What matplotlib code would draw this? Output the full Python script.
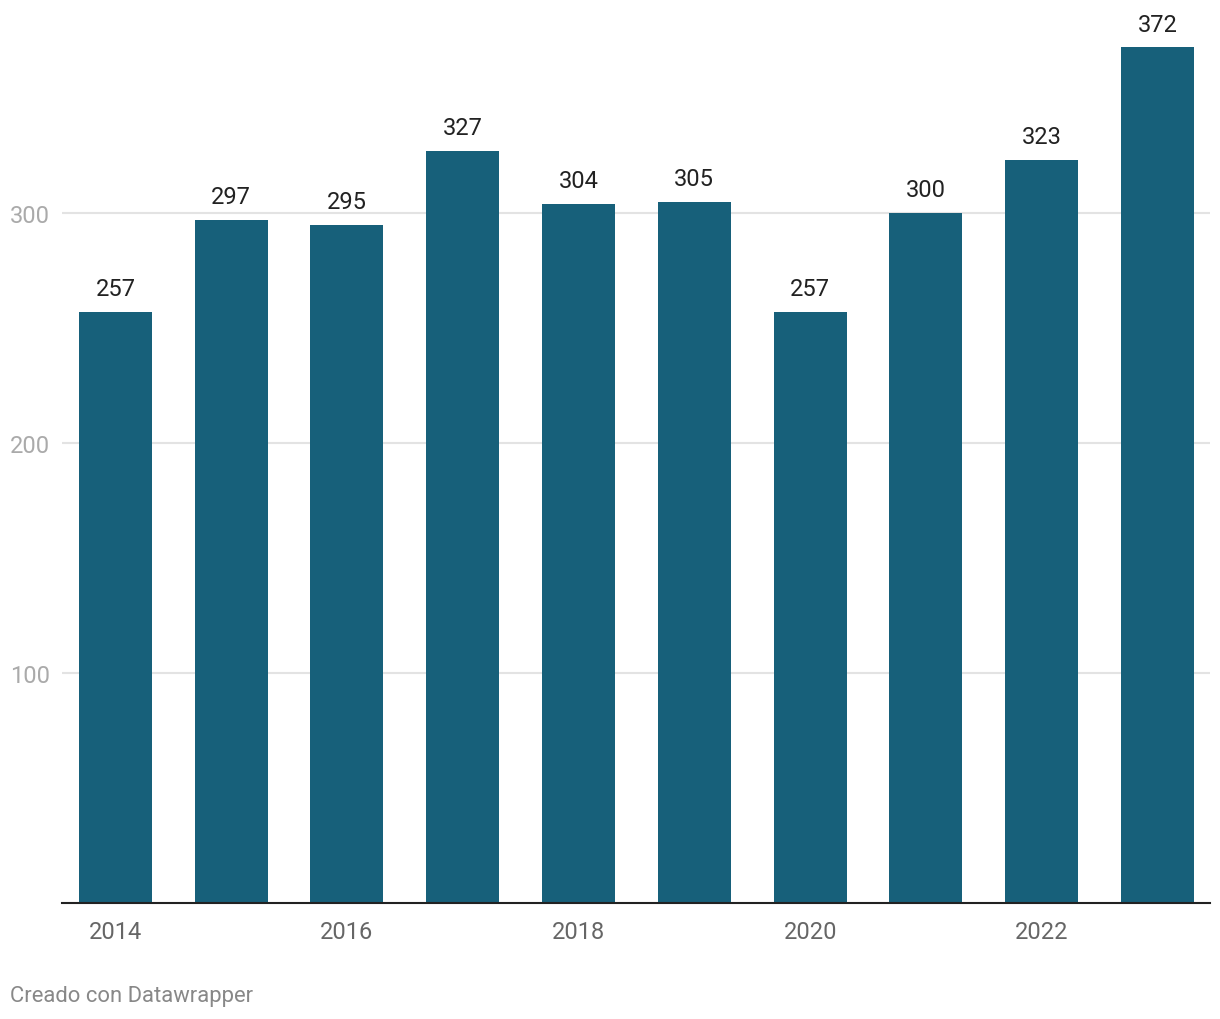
import matplotlib.pyplot as plt

years = [2014, 2015, 2016, 2017, 2018, 2019, 2020, 2021, 2022, 2023]
values = [257, 297, 295, 327, 304, 305, 257, 300, 323, 372]
tick_years = [2014, 2016, 2018, 2020, 2022]
y_ticks = [100, 200, 300]

plt.rcParams['font.family'] = ['Roboto', 'DejaVu Sans']

fig = plt.figure(figsize=(12.2, 10.2), dpi=100)
ax = fig.add_axes([62 / 1220, 116 / 1020, 1148 / 1220, 904 / 1020])

ax.bar(years, values, width=0.63, color='#17607a', zorder=2)
for x, v in zip(years, values):
    ax.annotate(str(v), (x, v), xytext=(0, 8.5), textcoords='offset points',
                ha='center', va='bottom', fontsize=17, color='#222222')

ax.set_xlim(2014 - 0.461, 2023 + 0.453)
ax.set_ylim(0, 904 / 2.3)

ax.set_yticks(y_ticks)
ax.set_yticklabels([str(t) for t in y_ticks])
ax.set_xticks(tick_years)
ax.set_xticklabels([str(t) for t in tick_years])
ax.tick_params(axis='y', length=0, pad=0, labelsize=17, labelcolor='#aaaaaa')
ax.tick_params(axis='x', length=0, pad=12, labelsize=17, labelcolor='#666666')
for lbl in ax.get_yticklabels():
    lbl.set_horizontalalignment('left')
    lbl.set_transform(ax.get_yaxis_transform())
    lbl.set_x(-52 / 1148)

ax.grid(axis='y', color='#e3e3e3', linewidth=1.5, zorder=0)
for side in ['top', 'right', 'left']:
    ax.spines[side].set_visible(False)
ax.spines['bottom'].set_color('#222222')
ax.spines['bottom'].set_linewidth(1.5)
ax.spines['bottom'].set_zorder(3)

fig.text(10 / 1220, 1 - 997 / 1020, 'Creado con Datawrapper', fontsize=15.8,
         color='#888888', ha='left', va='center')

fig.savefig('out.png', dpi=100)
